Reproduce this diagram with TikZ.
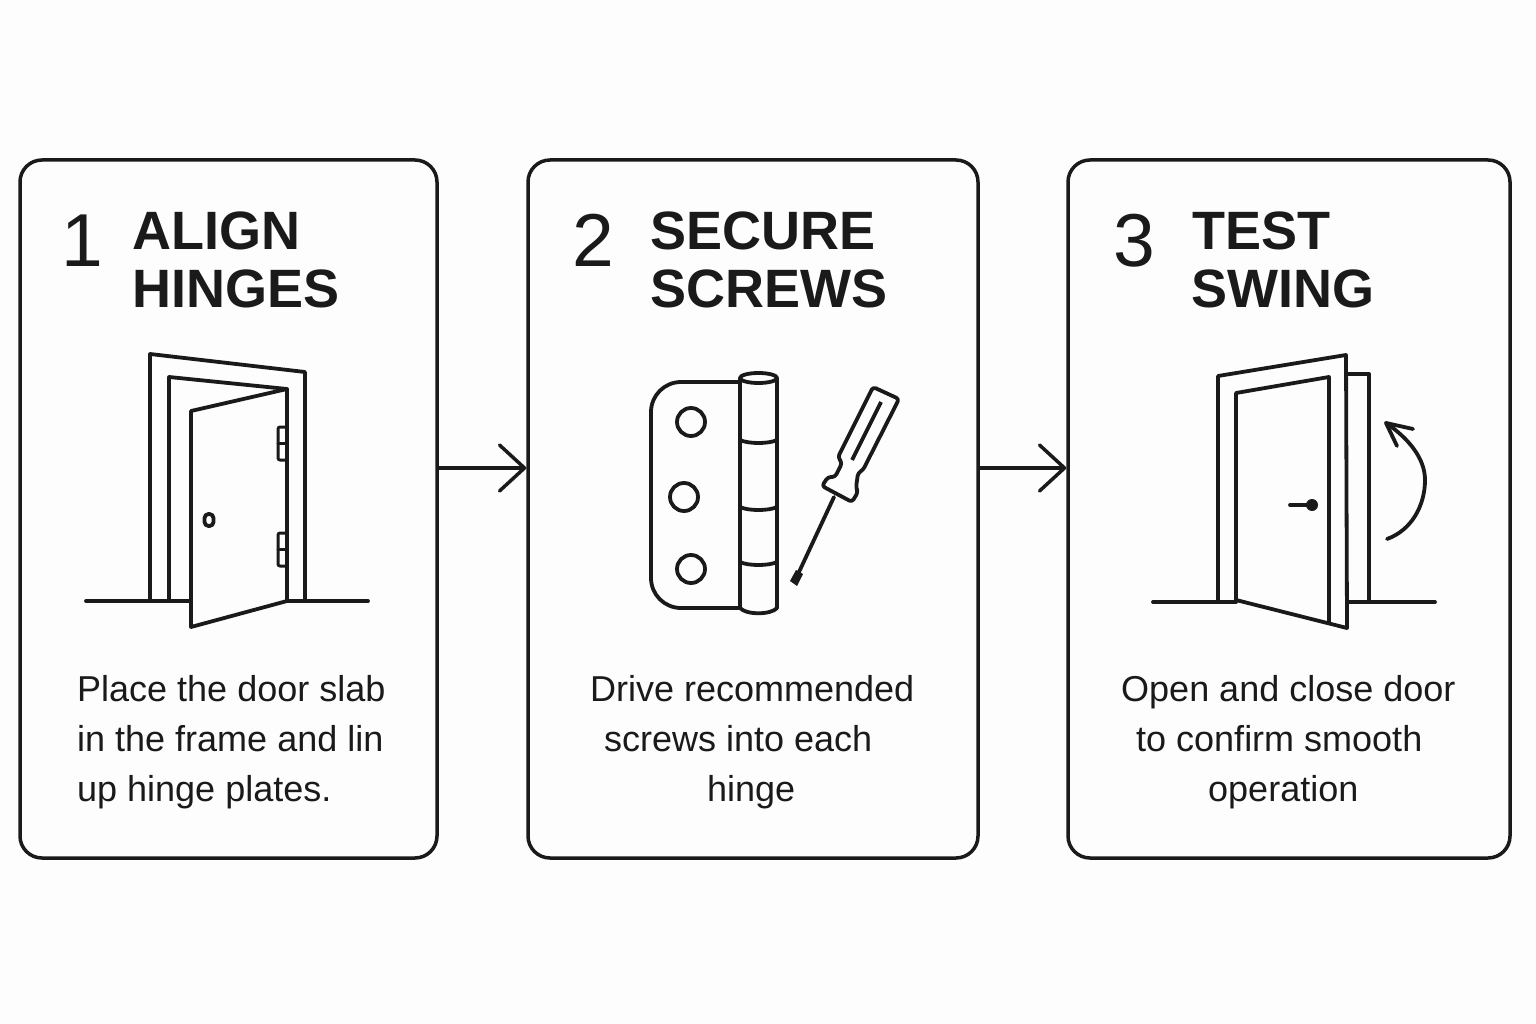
\documentclass[tikz,border=0pt]{standalone}
\usepackage{fontspec}
\setmainfont{Liberation Sans}
\usetikzlibrary{arrows.meta}
\definecolor{ink}{HTML}{1A1A1A}
\definecolor{paper}{HTML}{FDFDFD}
\tikzset{
  card/.style={draw=ink, line width=3.5pt, rounded corners=22pt, minimum height=698pt, inner sep=0pt},
  icon/.style={draw=ink, line width=3.8pt, line join=round, line cap=round},
  flow/.style={draw=ink, line width=3.5pt, line cap=round, -{Straight Barb[length=25pt, width=46pt, round]}},
  stepnum/.style={anchor=base west, inner sep=0pt, text=ink, font=\fontsize{75}{75}\selectfont},
  heading/.style={anchor=base west, inner sep=0pt, text=ink, font=\fontsize{54}{54}\selectfont\bfseries},
  bodyline/.style={anchor=base west, inner sep=0pt, text=ink, font=\fontsize{36}{36}\selectfont}
}
\begin{document}
\begin{tikzpicture}[x=1pt, y=-1pt]
      \fill[paper] (0,0) rectangle (1536,1024);
      \useasboundingbox (0,0) rectangle (1536,1024);

      \node[card, minimum width=417pt] (card1) at (228.5,509) {};
      \node[card, minimum width=450pt] (card2) at (753,509) {};
      \node[card, minimum width=442pt] (card3) at (1289,509) {};
      \draw[flow] ([yshift=41pt]card1.east) -- ([yshift=41pt]card2.west);
      \draw[flow] ([yshift=41pt]card2.east) -- ([yshift=41pt]card3.west);

      % titles
      \node[stepnum] (num1) at (61,266) {1};
      \node[heading] (title1a) at (132,250) {ALIGN};
      \node[heading] (title1b) at (132,307) {HINGES};
      \node[stepnum] (num2) at (572,266) {2};
      \node[heading] (title2a) at (650,250) {SECURE};
      \node[heading] (title2b) at (650,307) {SCREWS};
      \node[stepnum] (num3) at (1113,266) {3};
      \node[heading] (title3a) at (1192,250) {TEST};
      \node[heading] (title3b) at (1191,307) {SWING};

      % body text
      \foreach \name/\xx/\yy/\line in {
        t1a/77/701/Place the door slab, t1b/77/751/in the frame and lin, t1c/77/801/up hinge plates.,
        t2a/590/701/Drive recommended, t2b/604/751/screws into each, t2c/707/801/hinge,
        t3a/1121/701/Open and close door, t3b/1136/751/to confirm smooth, t3c/1208/801/operation}
        \node[bodyline] (\name) at (\xx,\yy) {\line};

      % first door
      \draw[icon] (86,601) -- (368,601);
      \draw[icon] (150,601) -- (150,354) -- (305,372) -- (305,601);
      \draw[icon] (169,601) -- (169,377) -- (287,389);
      \draw[icon, fill=paper] (191,411) -- (287,389) -- (287,601) -- (191,627) -- cycle;
      \foreach \yy in {427,533} {
        \draw[icon, line width=3pt, rounded corners=2pt] (287,\yy) -- (278,\yy) -- (278,\yy+33) -- (287,\yy+33);
        \draw[icon, line width=3pt] (278,\yy+16.5) -- (287,\yy+16.5);
      }
      \draw[icon, rounded corners=4pt] (204.5,514) rectangle (213.5,526);

      % hinge
      \draw[icon, rounded corners=30pt] (740,382) -- (651,382) -- (651,608) -- (740,608);
      \draw[icon] (740,378) -- (740,608) .. controls (746,615) and (771,615) .. (777,608) -- (777,378);
      \draw[icon] (758.5,378) ellipse (18.5pt and 5pt);
      \foreach \yy in {440,507,562}
        \draw[icon] (740,\yy) .. controls (748,\yy+4) and (769,\yy+4) .. (777,\yy);
      \foreach \xx/\yy in {691/422,684/497,691/569}
        \draw[icon] (\xx,\yy) circle (14pt);

      % screwdriver
      \draw[icon, rounded corners=3pt] (873,387) -- (899,399) -- (863,470) -- (858,473) -- (856,488) -- (858,492)
        -- (852,502) -- (822,486) -- (828,477) -- (835,477) -- (842,463) -- (838,457) -- cycle;
      \draw[icon, line cap=butt] (881,402) -- (852,460);
      \draw[icon] (834,497) -- (799,572);
      \fill[ink] (796,570) -- (803,574) -- (797,586) -- (790,581) -- cycle;

      % second door
      \draw[icon] (1153,602) -- (1236,602);
      \draw[icon] (1348,602) -- (1435,602);
      \draw[icon] (1348,374) -- (1369,374) -- (1369,602);
      \draw[icon] (1218,601) -- (1218,376) -- (1346,355) -- (1347,628) -- (1236,600);
      \draw[icon] (1236,600) -- (1236,393) -- (1329,377) -- (1329,623);
      \draw[icon] (1290,505) -- (1312,505);
      \fill[ink] (1312,505) circle (6pt);
      \draw[icon] (1387,539) .. controls (1412,530) and (1425,505) .. (1425,480) .. controls (1425,458) and (1408,438) .. (1386,423);
      \draw[icon] (1413,429) -- (1386,423) -- (1397,446);
\end{tikzpicture}
\end{document}
